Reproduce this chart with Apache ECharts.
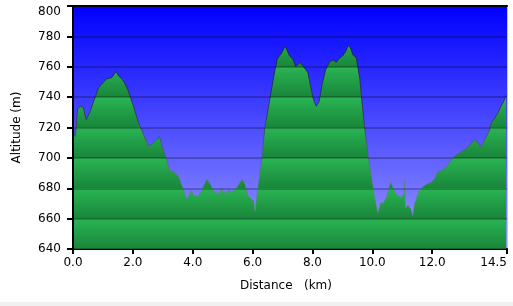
<!DOCTYPE html>
<html>
<head>
<meta charset="utf-8">
<script src="https://cdn.jsdelivr.net/npm/echarts@6/dist/echarts.min.js"></script>
<style>
html,body{margin:0;padding:0;background:#f0f0f0;}
#c{width:513px;height:302px;background:#fff;}
</style>
</head>
<body>
<div id="c"></div>
<script>
// ---- data ----
const distanceKm = [0.00,0.08,0.15,0.24,0.35,0.44,0.58,0.74,0.85,1.02,1.13,1.30,1.44,1.52,1.63,1.71,1.85,2.02,2.19,2.30,2.41,2.52,2.63,2.78,2.89,2.97,3.13,3.22,3.35,3.52,3.74,3.80,3.89,3.97,4.02,4.19,4.30,4.47,4.58,4.69,4.80,4.91,4.97,5.02,5.13,5.22,5.30,5.41,5.52,5.65,5.74,5.85,5.97,6.04,6.08,6.15,6.30,6.41,6.58,6.71,6.82,6.89,6.97,7.08,7.15,7.24,7.35,7.44,7.58,7.67,7.78,7.85,7.94,8.04,8.13,8.22,8.33,8.44,8.58,8.69,8.80,8.89,9.00,9.11,9.19,9.27,9.35,9.47,9.50,9.58,9.65,9.74,9.85,9.97,10.08,10.19,10.28,10.35,10.47,10.61,10.72,10.83,10.97,11.05,11.08,11.11,11.19,11.30,11.35,11.41,11.54,11.69,11.83,11.97,12.08,12.19,12.32,12.47,12.63,12.80,12.97,13.13,13.30,13.43,13.52,13.61,13.74,13.91,13.97,14.08,14.19,14.30,14.41,14.47];
const altitudeM = [717,714,732,734,733,725,731,740,746,750,752,753,757,754,752,750,744,734,723,718,713,708,709,712,714,708,699,692,691,688,676.5,673,676.5,679,675,675,679,686,683,679,676.5,677.5,681,677.5,677,679,677.5,679,682,686,683,675,673,672,665,677,698,720,739,754,765,767,769,773.5,771,767,765,760,763,761,758,756,747,738,734,737,749,758,763.5,764.5,763,765.5,767,770,774,772.5,768,765.5,764.5,752.5,738,720.5,703,687.5,674,664,671,670,674,684,679,675.5,674,676.5,686,667,669,666,662,670,677.5,681,683,684,686.5,691,692,694,698.5,702,704,706,709.5,712,710.5,707,711.5,718,723,726,729.5,734,738,741.5];
const xTickValues = [0,2,4,6,8,10,12,14.5];
const yMin = 640, yMax = 800, yStep = 20;

// ---- chart ----
const G = {left:73, right:6, top:6, bottom:53};
const H = 302;
const gTop = G.top, gBottom = H - G.bottom;

const bands = (yMax - yMin) / yStep;
const greenStops = [];
for (let k = 0; k < bands; k++) {
  const a = k / bands, b = (k + 1) / bands;
  greenStops.push({offset: a + 0.001, color: '#2ab453'});
  greenStops.push({offset: b - 0.001, color: '#19863b'});
}

const chart = echarts.init(document.getElementById('c'), null, {renderer:'canvas'});
const FONT = 'DejaVu Sans';
chart.setOption({
  animation: false,
  textStyle: {fontFamily: FONT},
  grid: {
    left: G.left, right: G.right, top: G.top, bottom: G.bottom,
    show: true, borderWidth: 0,
    backgroundColor: {type:'linear', x:0, y:0, x2:0, y2:1,
      colorStops:[{offset:0,color:'#0000ff'},{offset:1,color:'#9a9aff'}]}
  },
  xAxis: [{
    type: 'value', min: 0, max: 14.5, position: 'bottom',
    name: 'Distance   (km)', nameLocation: 'middle', nameGap: 31,
    nameTextStyle: {fontFamily: FONT, fontSize: 12, color: '#000', padding: [0, 8, 0, 0]},
    axisLine: {show: true, onZero: false, lineStyle: {color: '#000', width: 2}},
    axisTick: {show: true, length: 5, customValues: xTickValues, lineStyle: {color: '#000', width: 2}},
    axisLabel: {customValues: xTickValues, fontFamily: FONT, fontSize: 12, color: '#000', margin: 8,
      alignMaxLabel: 'right',
      formatter: v => Number(v).toFixed(1)},
    splitLine: {show: false}
  }, {
    type: 'value', min: 0, max: 14.5, position: 'top',
    axisLine: {show: true, onZero: false, lineStyle: {color: '#000', width: 2}},
    axisTick: {show: false}, axisLabel: {show: false}, splitLine: {show: false}
  }],
  yAxis: [{
    type: 'value', min: yMin, max: yMax, interval: yStep, z: 10,
    name: 'Altitude (m)', nameLocation: 'middle', nameGap: 50,
    nameTextStyle: {fontFamily: FONT, fontSize: 12, color: '#000'},
    axisLine: {show: true, onZero: false, lineStyle: {color: '#000', width: 2}},
    axisTick: {show: true, length: 6, lineStyle: {color: '#000', width: 2}},
    axisLabel: {fontFamily: FONT, fontSize: 12, color: '#000', margin: 12,
      formatter: v => v === yMax ? '{top|' + v + '}' : String(v),
      rich: {top: {fontFamily: FONT, fontSize: 12, color: '#000', padding: [12, 0, 0, 0]}}},
    splitLine: {show: true, lineStyle: {color: 'rgba(0,0,0,0.32)', width: 1.5}}
  }, {
    type: 'value', min: yMin, max: yMax, position: 'right',
    axisLine: {show: true, onZero: false, lineStyle: {color: '#c8c8c8', width: 1}},
    axisTick: {show: false}, axisLabel: {show: false}, splitLine: {show: false}
  }],
  series: [{
    type: 'line', xAxisIndex: 0, yAxisIndex: 0, z: 2,
    data: distanceKm.map((d, i) => [d, altitudeM[i]]),
    showSymbol: false, symbol: 'none', smooth: false,
    lineStyle: {width: 1, color: {type:'linear', x:0, y:gTop, x2:0, y2:gBottom, global:true,
      colorStops:[{offset:0,color:'rgba(20,20,40,0.95)'},{offset:0.45,color:'rgba(50,50,70,0.8)'},{offset:0.7,color:'rgba(110,110,130,0.5)'},{offset:1,color:'rgba(150,150,170,0.3)'}]}},
    areaStyle: {opacity: 1, color: {type:'linear', x:0, y:gTop, x2:0, y2:gBottom, global:true, colorStops: greenStops}}
  }]
});
</script>
</body>
</html>
